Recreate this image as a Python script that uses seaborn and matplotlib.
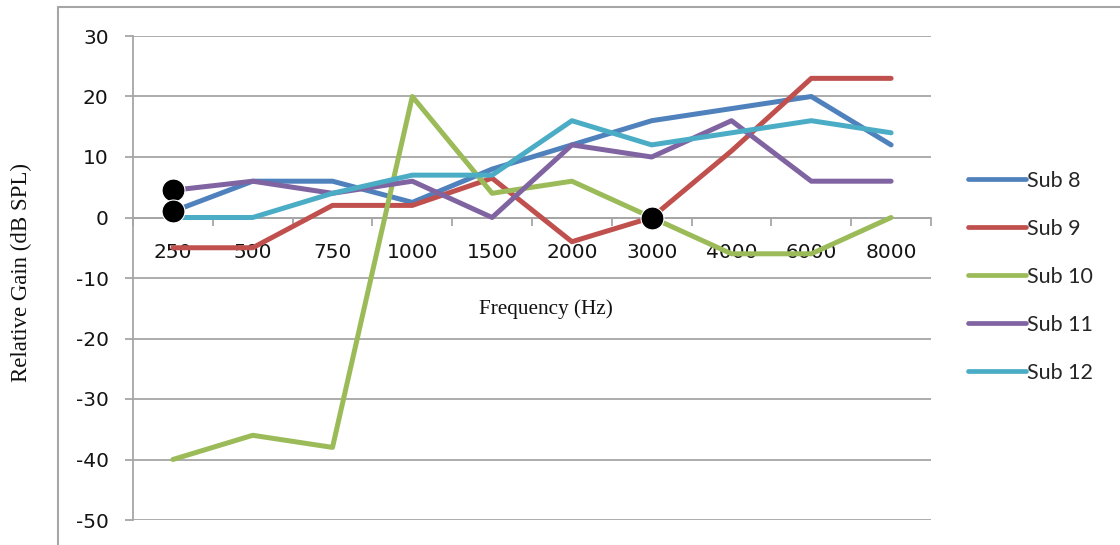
import numpy as np
import pandas as pd
import matplotlib
matplotlib.use("Agg")
import matplotlib.pyplot as plt
from matplotlib.lines import Line2D
import seaborn as sns

# Test frequencies (Hz) and relative gain per subject (dB SPL)
freqs = ["250", "500", "750", "1000", "1500", "2000", "3000", "4000", "6000", "8000"]
sub8 = [1, 6, 6, 2.5, 8, 12, 16, 18, 20, 12]
sub9 = [-5, -5, 2, 2, 6.5, -4, 0, 11, 23, 23]
sub10 = [-40, -36, -38, 20, 4, 6, 0, -6, -6, 0]
sub11 = [4.5, 6, 4, 6, 0, 12, 10, 16, 6, 6]
sub12 = [0, 0, 4, 7, 7, 16, 12, 14, 16, 14]

subjects = ["Sub 8", "Sub 9", "Sub 10", "Sub 11", "Sub 12"]
colors = ["#4F81BD", "#C0504D", "#9BBB59", "#8064A2", "#4BACC6"]

# Highlighted points: (subject, frequency)
flagged = [("Sub 11", "250"), ("Sub 8", "250"), ("Sub 9", "3000")]

series = dict(zip(subjects, [sub8, sub9, sub10, sub11, sub12]))
rows = []
for name, vals in series.items():
    for i, (f, v) in enumerate(zip(freqs, vals)):
        rows.append({"pos": i, "freq": f, "gain": v, "subject": name})
df = pd.DataFrame(rows)

sns.set_theme(style="white")
plt.rcParams["font.family"] = ["DejaVu Sans"]
plt.rcParams["axes.unicode_minus"] = False

W, H = 1120, 545
fig = plt.figure(figsize=(W / 100, H / 100), dpi=100)
ax = fig.add_axes([133 / W, (H - 520) / H, 798 / W, 484 / H])

grid_c = "#A6A6A6"
sns.lineplot(data=df, x="pos", y="gain", hue="subject", hue_order=subjects,
             palette=dict(zip(subjects, colors)), sort=False, linewidth=3.6,
             legend=False, ax=ax, zorder=3)

# black dots on the flagged points
fx = [freqs.index(f) for s, f in flagged]
fy = [series[s][freqs.index(f)] for s, f in flagged]
ax.plot(fx, fy, linestyle="none", marker="o", markersize=16.5,
        color="black", markeredgecolor="white", markeredgewidth=0.8, zorder=5)

ax.set_xlim(-0.5, len(freqs) - 0.5)
ax.set_ylim(-50, 30)
ax.set_yticks(np.arange(-50, 31, 10))
ax.yaxis.grid(True, color=grid_c, linewidth=1.3)
ax.xaxis.grid(False)
ax.set_axisbelow(True)

for s in ["top", "right"]:
    ax.spines[s].set_visible(False)
ax.spines["left"].set_color(grid_c)
ax.spines["left"].set_linewidth(1.3)
ax.spines["bottom"].set_position(("data", 0))
ax.spines["bottom"].set_color(grid_c)
ax.spines["bottom"].set_linewidth(1.3)

# category boundaries as tick marks, labels at category centres
ax.set_xticks(np.arange(len(freqs) + 1) - 0.5)
ax.set_xticklabels([])
ax.set_xticks(np.arange(len(freqs)), minor=True)
ax.set_xticklabels(freqs, minor=True)
ax.tick_params(axis="x", which="major", direction="out", length=5.5,
               width=1.3, color=grid_c, bottom=True)
ax.tick_params(axis="x", which="minor", length=0, pad=18, labelsize=14.5,
               labelcolor="#141414", bottom=True)
ax.tick_params(axis="y", direction="out", length=5.5, width=1.3, color=grid_c,
               pad=12, labelsize=14.5, labelcolor="#141414", left=True)

ax.set_xlabel("Frequency (Hz)", family=["Liberation Serif"], fontsize=15.3,
              color="#111111", va="center")
ax.xaxis.set_label_coords(0.517, (520 - 309) / 484)
ax.set_ylabel("")
fig.text(21 / W, 1 - 273 / H, "Relative Gain (dB SPL)", rotation=90,
         family=["Liberation Serif"], fontsize=16.5, color="#111111",
         ha="center", va="center")

handles = [Line2D([], [], color=c, linewidth=3.4) for c in colors]
fig.legend(handles, subjects, loc="center left",
           bbox_to_anchor=(968 / W, 1 - 277 / H), frameon=False,
           prop={"family": "Lato", "size": 15.5}, handlelength=2.7,
           handletextpad=0.05, labelspacing=1.30, borderpad=0,
           borderaxespad=0)

# outer chart border
fig.add_artist(Line2D([58 / W, 1.0], [1 - 7 / H, 1 - 7 / H],
                      transform=fig.transFigure, color=grid_c, linewidth=1.5))
fig.add_artist(Line2D([58 / W, 58 / W], [1 - 7 / H, 0.0],
                      transform=fig.transFigure, color=grid_c, linewidth=1.5))

fig.savefig("out.png", dpi=100)
